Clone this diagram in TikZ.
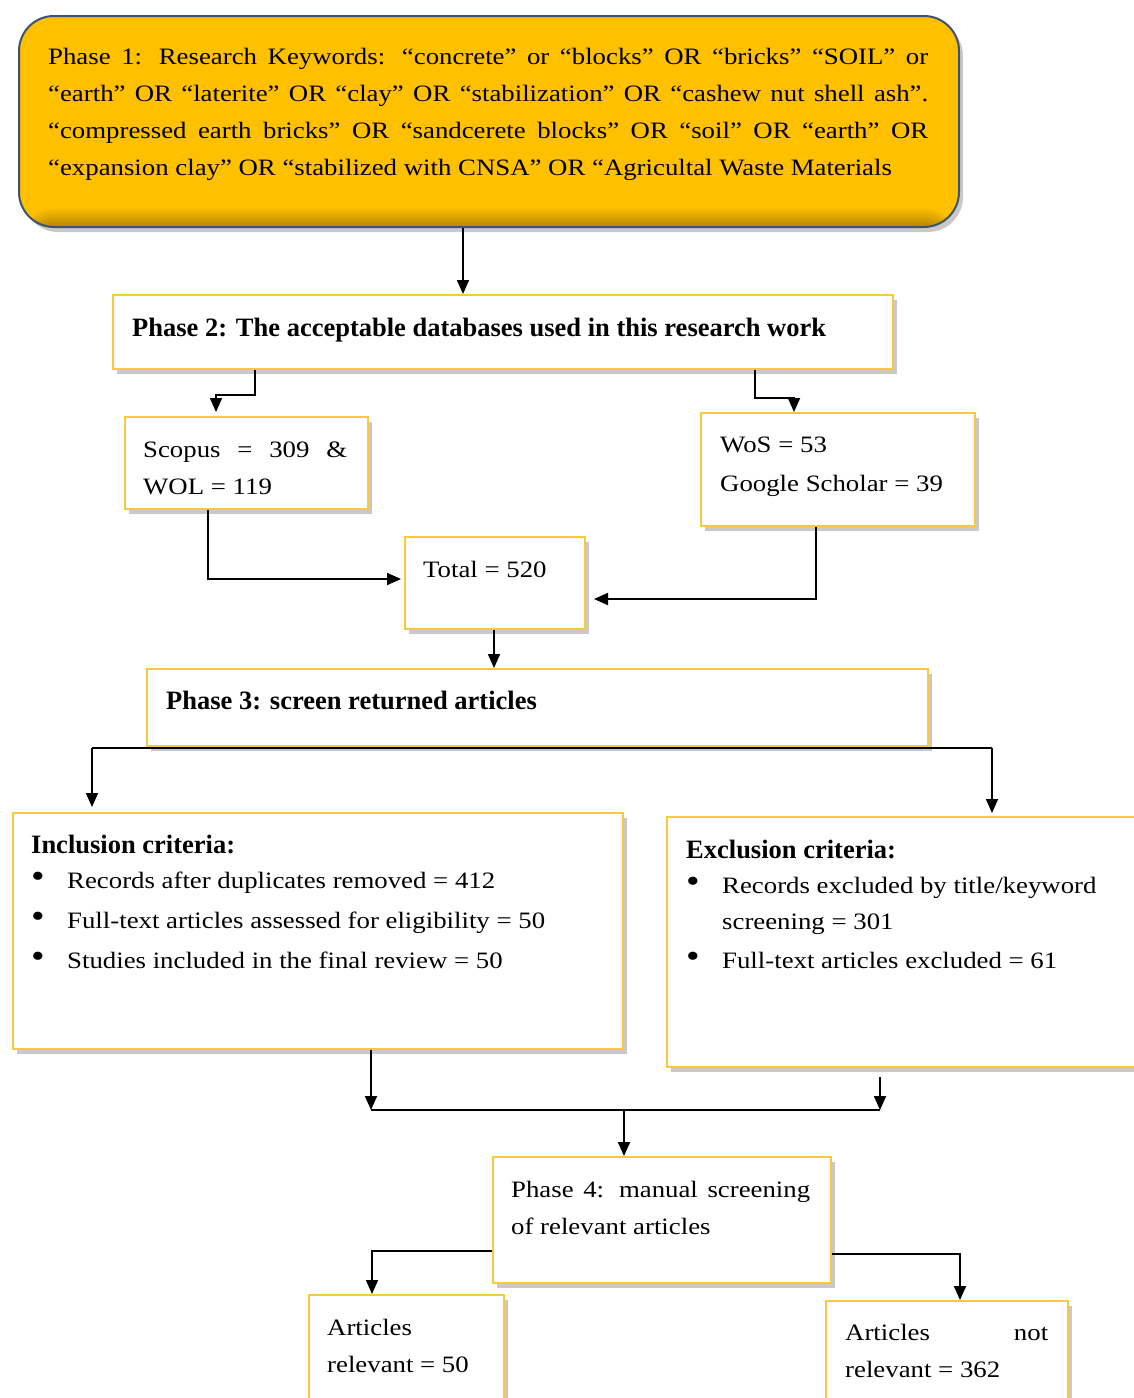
\documentclass[tikz,border=0pt]{standalone}
\usepackage{fontspec}
\setmainfont{Liberation Serif}[FakeStretch=1.14]
\newfontfamily\plainbf{Liberation Serif}
\usetikzlibrary{arrows.meta,shadows,calc}
\definecolor{gold}{HTML}{FFC000}
\definecolor{goldline}{HTML}{F9C93C}
\definecolor{slate}{HTML}{3B5374}
\newcommand{\bul}{\makebox[36pt][l]{\raisebox{1pt}{\fontsize{34}{34}\selectfont •}}}
\begin{document}
\begin{tikzpicture}[x=1pt,y=-1pt,
  shad/.style={drop shadow={shadow xshift=4pt,shadow yshift=-5pt,opacity=0.3,fill=black!70}},
  box/.style={draw=goldline,line width=2pt,fill=white,shad,anchor=north west,inner sep=0pt},
  phaseone/.style={draw=slate,line width=2pt,fill=gold,rounded corners=35pt,shad,anchor=north west,inner sep=0pt,
    path picture={\foreach \i in {1,...,9}{\fill[black,opacity=0.03]
      ([yshift=2*\i pt]path picture bounding box.south west) rectangle (path picture bounding box.south east);}}},
  txt/.style={anchor=base west,inner sep=0pt,font=\fontsize{23.5}{37}\selectfont},
  ttl/.style={anchor=base west,inner sep=0pt,font=\plainbf\bfseries\fontsize{26.5}{32}\selectfont},
  conn/.style={line width=1.8pt,black},
  arr/.style={conn,-{Triangle[length=14pt,width=12pt]}}]
\useasboundingbox (0,0) rectangle (1134,1398);
\clip (0,0) rectangle (1134,1398);

% boxes
\node[phaseone,minimum width=940,minimum height=211] (p1) at (18,15) {};
\node[box,minimum width=780,minimum height=74] (p2) at (112,294) {};
\node[box,minimum width=243,minimum height=92] (sc) at (124,416) {};
\node[box,minimum width=274,minimum height=113] (wos) at (700,412) {};
\node[box,minimum width=180,minimum height=92] (tot) at (404,536) {};
\node[box,minimum width=781,minimum height=77] (p3) at (146,668) {};
\node[box,minimum width=610,minimum height=236] (inc) at (12,812) {};
\node[box,minimum width=500,minimum height=250] (exc) at (666,816) {};
\node[box,minimum width=338,minimum height=126] (p4) at (492,1156) {};
\node[box,minimum width=195,minimum height=140] (a1) at (308,1294) {};
\node[box,minimum width=242,minimum height=140] (a2) at (825,1300) {};

% texts
\node[txt] (t1) at (48,64) {\parbox[t]{880pt}{%
\makebox[880pt][s]{Phase 1: Research Keywords: “concrete” or “blocks” OR “bricks” “SOIL” or}\\
\makebox[880pt][s]{“earth” OR “laterite” OR “clay” OR “stabilization” OR “cashew nut shell ash”.}\\
\makebox[880pt][s]{“compressed earth bricks” OR “sandcerete blocks” OR “soil” OR “earth” OR}\\
“expansion clay” OR “stabilized with CNSA” OR “Agricultal Waste Materials}};
\node[ttl] (t2) at (132,336) {Phase 2: The acceptable databases used in this research work};
\node[txt] (t3) at (143,457) {\parbox[t]{220pt}{\makebox[204pt][s]{Scopus = 309 \&}\\WOL = 119}};
\node[txt] (t4) at (720,452) {\parbox[t]{250pt}{WoS = 53\\[2pt]Google Scholar = 39}};
\node[txt] (t5) at (423,577) {Total = 520};
\node[ttl] (t6) at (166,709) {Phase 3: screen returned articles};
\node[ttl] (t7) at (31,853) {Inclusion criteria:};
\node[txt,font=\fontsize{23.5}{40}\selectfont] (t8) at (31,888) {\parbox[t]{580pt}{%
\bul Records after duplicates removed = 412\\
\bul Full-text articles assessed for eligibility = 50\\
\bul Studies included in the final review = 50}};
\node[ttl] (t9) at (686,858) {Exclusion criteria:};
\node[txt,font=\fontsize{23.5}{36}\selectfont] (t10) at (686,893) {\parbox[t]{440pt}{%
\bul Records excluded by title/keyword\\
\hspace*{36pt}screening = 301}};
\node[txt] (t11) at (686,968) {\bul Full-text articles excluded = 61};
\node[txt] (t12) at (511,1197) {\parbox[t]{310pt}{\makebox[299pt][s]{Phase 4: manual screening}\\of relevant articles}};
\node[txt] (t13) at (327,1335) {\parbox[t]{180pt}{Articles\\relevant = 50}};
\node[txt] (t14) at (845,1340) {\parbox[t]{220pt}{\makebox[203pt][s]{Articles not}\\relevant = 362}};

% connectors
\draw[arr] ([xshift=445]p1.south west) -- ([xshift=351]p2.north west);
\draw[arr] ([xshift=143]p2.south west) -- ++(0,25) -| ([xshift=92,yshift=4]sc.north west);
\draw[arr] ([xshift=643]p2.south west) -- ++(0,28) -| ([xshift=94]wos.north west);
\draw[arr] ([xshift=84]sc.south west) |- ([xshift=-3,yshift=4]tot.west);
\draw[arr,shorten >=8pt] ([xshift=116]wos.south west) |- ([yshift=-16]tot.east);
\draw[arr] ([xshift=90]tot.south west) -- ([xshift=348]p3.north west);

\coordinate (L3) at ([xshift=-54,yshift=-1]p3.south west);
\coordinate (R3) at ([xshift=63,yshift=-1]p3.south east);
\draw[conn] (L3) -- (R3);
\draw[arr] (L3) -- ([yshift=5]L3 |- inc.north);
\draw[arr] (R3) -- ([yshift=3]R3 |- exc.north);

\coordinate (JL) at (371,1110);
\coordinate (JR) at (880,1110);
\coordinate (JM) at (624,1110);
\draw[arr] ([xshift=359]inc.south west) -- (JL);
\draw[arr] ([xshift=214,yshift=-9]exc.south west) -- (JR);
\draw[conn] (JL) -- (JR);
\draw[arr] (JM) -- (JM |- p4.north);

\draw[arr] ([yshift=-31]p4.west) -| ([xshift=64]a1.north west);
\draw[arr] ([yshift=-34]p4.east) -| ([xshift=135]a2.north west);
\end{tikzpicture}
\end{document}
